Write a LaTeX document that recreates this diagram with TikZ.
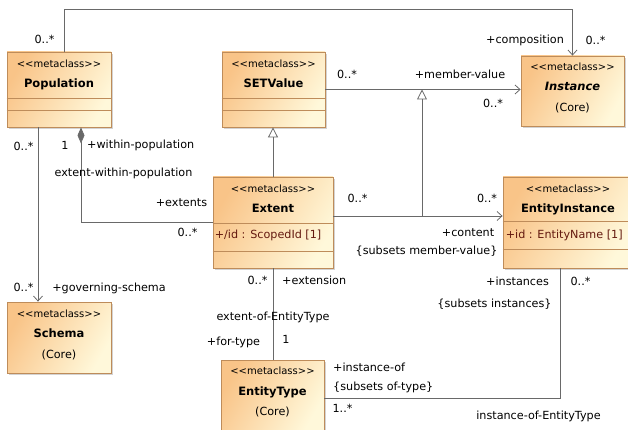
\documentclass[tikz,border=0pt]{standalone}
\usepackage{fontspec}
\setmainfont{DejaVu Sans}
\usetikzlibrary{arrows.meta,shadows}
\definecolor{clsA}{RGB}{249,196,136}
\definecolor{clsB}{RGB}{255,248,218}
\definecolor{clsline}{RGB}{190,140,90}
\definecolor{attr}{RGB}{100,25,15}
\definecolor{conn}{RGB}{105,105,105}
\newcommand{\metacls}{<{}<metaclass>{}>}

\begin{document}
\begin{tikzpicture}[x=1pt,y=-1pt,
  cls/.style={draw=clsline, line width=0.8pt, top color=clsA, bottom color=clsB, shading angle=60,
    drop shadow={shadow xshift=2pt,shadow yshift=-2pt,opacity=0.35}},
  cmp/.style={draw=clsline, line width=0.8pt},
  stereo/.style={font=\fontsize{10}{12}\selectfont, inner sep=0pt, text height=7.5pt, text depth=2pt},
  cname/.style={font=\fontsize{11.5}{13}\selectfont\bfseries, inner sep=0pt, text height=8pt, text depth=2pt},
  lbl/.style={font=\fontsize{11.2}{13}\selectfont, inner sep=0pt, text height=8pt, text depth=2pt},
  attrib/.style={lbl, text=attr, anchor=west},
  assoc/.style={draw=conn, line width=0.8pt},
  >={Straight Barb[length=5pt,width=9pt]},
  gen/.style={assoc, -{Triangle[open,length=10pt,width=10pt]}},
  comp/.style={assoc, {Diamond[length=16pt,width=7pt]}-}]
\useasboundingbox (0,0) rectangle (628,430);
\clip (0,0) rectangle (628,430);

\node[cls, minimum width=104pt, minimum height=75pt] (pop) at (59,89.5) {};
\node[stereo] (popst) at ([yshift=-13pt]pop.north) {\metacls};
\node[cname] (popnm) at ([yshift=-33pt]pop.north) {Population};
\draw[cmp] ([yshift=-47pt]pop.north west) -- ([yshift=-47pt]pop.north east);
\draw[cmp] ([yshift=-59pt]pop.north west) -- ([yshift=-59pt]pop.north east);

\node[cls, minimum width=103pt, minimum height=75pt] (setv) at (273.5,89.5) {};
\node[stereo] (setvst) at ([yshift=-13pt]setv.north) {\metacls};
\node[cname] (setvnm) at ([yshift=-33pt]setv.north) {SETValue};
\draw[cmp] ([yshift=-47pt]setv.north west) -- ([yshift=-47pt]setv.north east);
\draw[cmp] ([yshift=-59pt]setv.north west) -- ([yshift=-59pt]setv.north east);

\node[cls, minimum width=103pt, minimum height=70pt] (inst) at (572.5,91) {};
\node[stereo] (instst) at ([yshift=-12pt]inst.north) {\metacls};
\node[cname] (instnm) at ([yshift=-32pt]inst.north) {\itshape Instance};
\node[lbl] (instcr) at ([yshift=-53pt]inst.north) {(Core)};

\node[cls, minimum width=120pt, minimum height=91pt] (ext) at (273,222.5) {};
\node[stereo] (extst) at ([yshift=-13pt]ext.north) {\metacls};
\node[cname] (extnm) at ([yshift=-33pt]ext.north) {Extent};
\draw[cmp] ([yshift=-47pt]ext.north west) -- ([yshift=-47pt]ext.north east);
\draw[cmp] ([yshift=-75pt]ext.north west) -- ([yshift=-75pt]ext.north east);
\node[attrib] (extat) at ([xshift=2pt,yshift=-59pt]ext.north west) {+/id : ScopedId [1]};

\node[cls, minimum width=130pt, minimum height=91pt] (ei) at (568,222.5) {};
\node[stereo] (eist) at ([yshift=-13pt]ei.north) {\metacls};
\node[cname] (einm) at ([yshift=-33pt]ei.north) {EntityInstance};
\draw[cmp] ([yshift=-45pt]ei.north west) -- ([yshift=-45pt]ei.north east);
\draw[cmp] ([yshift=-73pt]ei.north west) -- ([yshift=-73pt]ei.north east);
\node[attrib] (eiat) at ([xshift=3pt,yshift=-59pt]ei.north west) {+id : EntityName [1]};

\node[cls, minimum width=104pt, minimum height=71pt] (schema) at (59,337.5) {};
\node[stereo] (schemast) at ([yshift=-13pt]schema.north) {\metacls};
\node[cname] (schemanm) at ([yshift=-33pt]schema.north) {Schema};
\node[lbl] (schemacr) at ([yshift=-54pt]schema.north) {(Core)};

\node[cls, minimum width=103pt, minimum height=70pt] (etype) at (272.5,395) {};
\node[stereo] (etypest) at ([yshift=-12pt]etype.north) {\metacls};
\node[cname] (etypenm) at ([yshift=-33pt]etype.north) {EntityType};
\node[lbl] (etypecr) at ([yshift=-53pt]etype.north) {(Core)};

% connectors
\coordinate (poptop) at ([xshift=5pt]pop.north);
\coordinate (popagg) at ([xshift=22pt]pop.south);
\coordinate (popsch) at ([xshift=-21pt]pop.south);
\coordinate (extr) at ([yshift=6.5pt]ext.east);
\coordinate (eibot) at ([xshift=-8pt]ei.south);
\coordinate (etr) at ([yshift=-3pt]etype.east);
\coordinate (mvj) at (422,89.5);
\coordinate (ctj) at (422,216);
\draw[assoc,->] (poptop) -- ++(0,-42) -| (inst.north);
\draw[assoc,->] (setv.east) -- (setv.east -| inst.west);
\draw[gen] (ext.north) -- (ext.north |- setv.south);
\draw[gen] (ctj) -- (mvj);
\draw[assoc,->] (extr) -- (extr -| ei.west);
\draw[comp] (popagg) |- (ext.west);
\draw[assoc,->] (popsch) -- (popsch |- schema.north);
\draw[assoc] (ext.south) -- (ext.south |- etype.north);
\draw[assoc] (eibot) |- (etr);

% labels
\node[lbl] (m1) at (44.5,41) {0..*};
\node[lbl] (r1) at (525,41) {+composition};
\node[lbl] (m2) at (595.5,42) {0..*};
\node[lbl] (m3) at (347,76) {0..*};
\node[lbl] (r2) at (460,76) {+member-value};
\node[lbl] (m4) at (493,105) {0..*};
\node[lbl] (m5) at (23.5,148) {0..*};
\node[lbl] (m6) at (65,147) {1};
\node[lbl, anchor=west] (r3) at (87,146) {+within-population};
\node[lbl] (a1) at (123.5,174) {extent-within-population};
\node[lbl] (r4) at (181.5,204) {+extents};
\node[lbl] (m7) at (187.5,233) {0..*};
\node[lbl] (m8) at (23.5,288) {0..*};
\node[lbl] (r5) at (109,288) {+governing-schema};
\node[lbl] (m9) at (257.5,281) {0..*};
\node[lbl, anchor=west] (r6) at (282,281) {+extension};
\node[lbl] (a2) at (273,317) {extent-of-EntityType};
\node[lbl] (r7) at (233.5,342) {+for-type};
\node[lbl] (m10) at (286,340) {1};
\node[lbl] (m11) at (357.5,200) {0..*};
\node[lbl] (m12) at (487,200) {0..*};
\node[lbl] (r8) at (468,233) {+content};
\node[lbl] (c1) at (426.5,251) {\{subsets member-value\}};
\node[lbl] (r9) at (517.5,282) {+instances};
\node[lbl] (c2) at (494.5,304) {\{subsets instances\}};
\node[lbl] (m13) at (580.5,282) {0..*};
\node[lbl, anchor=west] (r10) at (333,368) {+instance-of};
\node[lbl, anchor=west] (c3) at (333,387) {\{subsets of-type\}};
\node[lbl] (m14) at (342.5,409) {1..*};
\node[lbl] (a3) at (538.5,416) {instance-of-EntityType};
\end{tikzpicture}
\end{document}
